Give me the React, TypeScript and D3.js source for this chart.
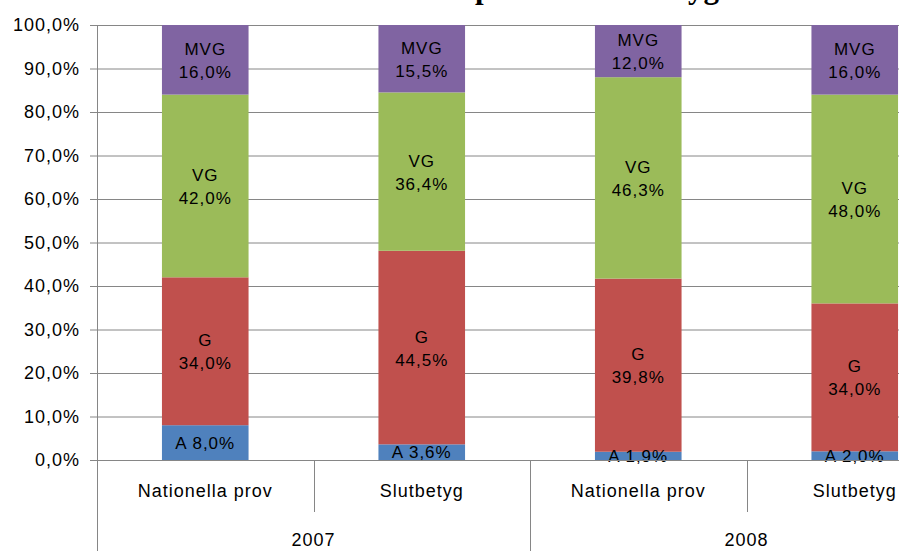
import { useEffect, useRef } from 'react';
import * as d3 from 'd3';

const years = ['2007', '2008'];
const kinds = ['Nationella prov', 'Slutbetyg'];
const grades = ['A', 'G', 'VG', 'MVG'];
const gradeColors = ['#4f81bd', '#c0504d', '#9bbb59', '#8064a2'];

// percent per grade, one row per year/kind column
const aValues = [8.0, 3.6, 1.9, 2.0];
const gValues = [34.0, 44.5, 39.8, 34.0];
const vgValues = [42.0, 36.4, 46.3, 48.0];
const mvgValues = [16.0, 15.5, 12.0, 16.0];

const yTicks = [0, 10, 20, 30, 40, 50, 60, 70, 80, 90, 100];

const fmt = (v: number) => v.toFixed(1).replace('.', ',') + '%';

export default function App() {
  const svgRef = useRef<SVGSVGElement>(null);

  useEffect(() => {
    if (!svgRef.current) return;
    const height = 551;
    const left = 97;
    const top = 25;
    const bottom = 460;
    const right = 963; // plot runs past the window edge in the original

    const svg = d3.select(svgRef.current);
    svg.selectAll('*').remove();

    const columns = years.flatMap((y) => kinds.map((k) => `${y}|${k}`));
    const series = [aValues, gValues, vgValues, mvgValues];
    const rows = columns.map((c, i) => {
      const r: any = { key: c };
      grades.forEach((g, j) => (r[g] = series[j][i]));
      return r;
    });

    const x = d3.scaleBand().domain(columns).range([left, right]).padding(0);
    const yearX = d3.scaleBand().domain(years).range([left, right]).padding(0);
    const y = d3.scaleLinear().domain([0, 100]).range([bottom, top]);
    const barW = x.step() * 0.4;
    const font = '"Liberation Sans", Arial, sans-serif';

    // title (mostly out of view)
    svg
      .append('text')
      .attr('x', 719)
      .attr('y', -2)
      .attr('text-anchor', 'end')
      .attr('font-family', '"Liberation Serif", "Times New Roman", serif')
      .attr('font-weight', 'bold')
      .attr('font-size', 31)
      .attr('fill', '#000')
      .text('Nationella prov och slutbetyg');

    // gridlines + y axis
    const yAxis = d3
      .axisLeft(y)
      .tickValues(yTicks)
      .tickSize(-(right - left))
      .tickFormat((d) => fmt(Number(d)));
    const ga = svg.append('g').attr('transform', `translate(${left},0)`).call(yAxis);
    ga.select('.domain').remove();
    ga.selectAll('line').attr('stroke', '#868686').attr('x1', -7);
    ga.selectAll('text')
      .attr('x', -17)
      .attr('font-family', font)
      .attr('font-size', 18)
      .attr('letter-spacing', 1)
      .attr('fill', '#000');

    // bars
    const stacked = d3.stack<any>().keys(grades)(rows);
    const layer = svg
      .selectAll('g.layer')
      .data(stacked)
      .join('g')
      .attr('class', 'layer')
      .attr('fill', (_d, i) => gradeColors[i]);
    layer
      .selectAll('rect')
      .data((d) => d)
      .join('rect')
      .attr('x', (d: any) => (x(d.data.key) || 0) + (x.step() - barW) / 2)
      .attr('width', barW)
      .attr('y', (d) => y(d[1]))
      .attr('height', (d) => y(d[0]) - y(d[1]));

    // labels
    stacked.forEach((s, i) => {
      s.forEach((d: any) => {
        const cx = (x(d.data.key) || 0) + x.step() / 2;
        const cy = (y(d[0]) + y(d[1])) / 2;
        const v = d[1] - d[0];
        const t = svg
          .append('text')
          .attr('x', cx)
          .attr('text-anchor', 'middle')
          .attr('font-family', font)
          .attr('font-size', 17)
          .attr('letter-spacing', 1)
          .attr('fill', '#000');
        if (grades[i] === 'A') {
          t.attr('y', cy + 6).text(`A ${fmt(v)}`);
        } else {
          t.append('tspan').attr('x', cx).attr('y', cy - 5).text(grades[i]);
          t.append('tspan').attr('x', cx).attr('y', cy + 18).text(fmt(v));
        }
      });
    });

    // category axis
    const axisG = svg.append('g').attr('stroke', '#868686').attr('stroke-width', 1);
    axisG.append('line').attr('x1', left - 7).attr('x2', right).attr('y1', bottom + 0.5).attr('y2', bottom + 0.5);
    axisG.append('line').attr('x1', left + 0.5).attr('x2', left + 0.5).attr('y1', top).attr('y2', height);
    columns.forEach((c, i) => {
      if (i === 0) return;
      const xx = Math.round(x(c) || 0) + 0.5;
      const isYear = i % kinds.length === 0;
      axisG
        .append('line')
        .attr('x1', xx)
        .attr('x2', xx)
        .attr('y1', bottom)
        .attr('y2', isYear ? height : 512);
    });

    svg
      .selectAll('text.cat')
      .data(columns)
      .join('text')
      .attr('class', 'cat')
      .attr('x', (d) => (x(d) || 0) + x.step() / 2)
      .attr('y', 497)
      .attr('text-anchor', 'middle')
      .attr('font-family', font)
      .attr('font-size', 18)
      .attr('letter-spacing', 1)
      .attr('fill', '#000')
      .text((d) => d.split('|')[1]);

    svg
      .selectAll('text.year')
      .data(years)
      .join('text')
      .attr('class', 'year')
      .attr('x', (d) => (yearX(d) || 0) + yearX.bandwidth() / 2)
      .attr('y', 546)
      .attr('text-anchor', 'middle')
      .attr('font-family', font)
      .attr('font-size', 18)
      .attr('letter-spacing', 1)
      .attr('fill', '#000')
      .text((d) => d);
  }, []);

  return (
    <div style={{ position: 'fixed', left: 0, top: 0, background: '#fff' }}>
      <svg ref={svgRef} width={899} height={551} style={{ display: 'block' }} />
    </div>
  );
}
